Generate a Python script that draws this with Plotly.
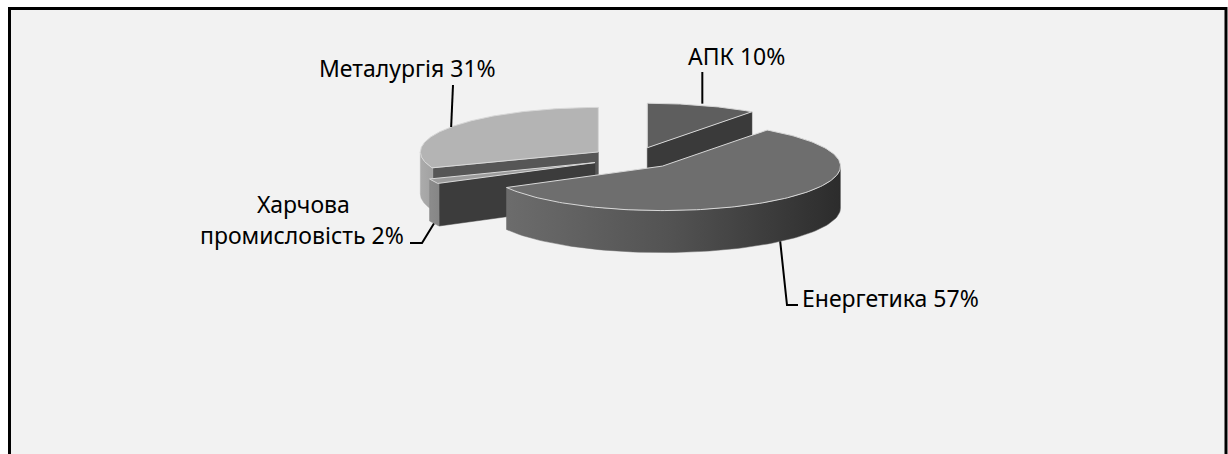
import numpy as np
import plotly.graph_objects as go

# Sector shares (%), in clockwise order starting from 12 o'clock
sectors = ["АПК", "Енергетика", "Харчова промисловість", "Металургія"]
shares = [10, 57, 2, 31]
labels = ["АПК 10%", "Енергетика 57%", "Харчова<br>промисловість 2%", "Металургія 31%"]

top_colors = ["#5e5e5e", "#6e6e6e", "#9c9c9c", "#b4b4b4"]
radial_colors = ["#3a3a3a", "#3a3a3a", "#3c3c3c", "#565656"]
side_scales = [
    [[0, "#4a4a4a"], [1, "#303030"]],
    [[0, "#6c6c6c"], [0.5, "#525252"], [1, "#2c2c2c"]],
    [[0, "#8c8c8c"], [1, "#868686"]],
    [[0, "#ababab"], [1, "#a2a2a2"]],
]

# 3D pie geometry (unit radius)
TILT = 0.25       # vertical squash of the disc
DEPTH = 0.236     # thickness of the disc
EXPLODE = 0.242   # radial offset of each slice

# Screen placement: pie centre in pixels and pixels per unit
W, H = 1228, 454
CX, CY, S = 634, 158, 178


def px(x, y):
    """Pixel position -> data coordinates."""
    return (x - CX) / S, (CY - y) / S


def rim(a_deg, ox, oy, drop=0.0):
    a = np.radians(a_deg)
    return ox + np.sin(a), oy + TILT * np.cos(a) - drop


fig = go.Figure()

total = sum(shares)
bounds = np.concatenate([[0], np.cumsum(shares) / total * 360])
slices = []
for i in range(len(shares)):
    a1, a2 = bounds[i], bounds[i + 1]
    mid = np.radians((a1 + a2) / 2)
    ox, oy = EXPLODE * np.sin(mid), EXPLODE * TILT * np.cos(mid)
    slices.append((i, a1, a2, ox, oy))

# back-to-front drawing order
order = [0, 3, 2, 1]


def poly(xs, ys, color, line_color=None, grad=None):
    kw = dict(x=list(xs) + [xs[0]], y=list(ys) + [ys[0]], mode="lines", fill="toself",
              hoverinfo="skip", showlegend=False)
    if line_color:
        kw["line"] = dict(color=line_color, width=1)
    else:
        kw["line"] = dict(color=color, width=0.5)
    if grad is not None:
        kw["fillgradient"] = dict(type="horizontal", colorscale=grad)
    else:
        kw["fillcolor"] = color
    fig.add_trace(go.Scatter(**kw))


for idx in order:
    i, a1, a2, ox, oy = slices[idx]
    # radial faces that face the viewer
    for a, visible in ((a1, 180 < a1 % 360 < 360), (a2, 0 < a2 % 360 < 180)):
        if visible:
            tx, ty = rim(a, ox, oy)
            bx, by = rim(a, ox, oy, DEPTH)
            poly([ox, tx, bx, ox], [oy, ty, by, oy - DEPTH], radial_colors[i])
    # outer curved side (front half only)
    lo, hi = max(a1, 90), min(a2, 270)
    if hi > lo:
        aa = np.linspace(lo, hi, 80)
        tx, ty = rim(aa, ox, oy)
        bx, by = rim(aa[::-1], ox, oy, DEPTH)
        poly(np.concatenate([tx, bx]), np.concatenate([ty, by]), side_scales[i][0][1],
             grad=side_scales[i])
    # top face
    aa = np.linspace(a1, a2, 160)
    tx, ty = rim(aa, ox, oy)
    poly(np.concatenate([[ox], tx]), np.concatenate([[oy], ty]), top_colors[i],
         line_color="#d8d8d8")

# Leader lines from each slice to its label, and the labels themselves
line_style = dict(color="black", width=2)
font = dict(family="Noto Sans, sans-serif", size=23, color="black")


def leader(points):
    xs, ys = zip(*points)
    fig.add_trace(go.Scatter(x=xs, y=ys, mode="lines", line=line_style,
                             hoverinfo="skip", showlegend=False))


def mid_anchor(idx, bottom):
    i, a1, a2, ox, oy = slices[idx]
    return rim((a1 + a2) / 2, ox, oy, DEPTH if bottom else 0.0)


# АПК
ax, ay = mid_anchor(0, False)
leader([(ax, ay + 0.01), (ax, px(0, 72)[1])])
fig.add_annotation(x=px(736, 0)[0], y=px(0, 56)[1], text=labels[0], showarrow=False, font=font)
# Металургія
ax, ay = mid_anchor(3, False)
leader([(ax, ay), (px(453, 0)[0], px(0, 85)[1])])
fig.add_annotation(x=px(407, 0)[0], y=px(0, 68)[1], text=labels[3], showarrow=False, font=font)
# Харчова промисловість
ax, ay = mid_anchor(2, True)
leader([(ax, ay), (px(422, 0)[0], px(0, 243)[1]), (px(410, 0)[0], px(0, 243)[1])])
fig.add_annotation(x=px(303, 0)[0], y=px(0, 204)[1], text="Харчова", showarrow=False, font=font)
fig.add_annotation(x=px(406, 0)[0], y=px(0, 235)[1], text="промисловість 2%", showarrow=False,
                   font=font, xanchor="right")
# Енергетика
ax, ay = mid_anchor(1, True)
leader([(ax, ay), (px(787, 0)[0], px(0, 305)[1]), (px(798, 0)[0], px(0, 305)[1])])
fig.add_annotation(x=px(800, 0)[0], y=px(0, 298)[1], text=labels[1], showarrow=False,
                   font=font, xanchor="left")

x0, _ = px(0, 0)
x1, _ = px(W, 0)
_, y1 = px(0, 0)
_, y0 = px(0, H)

fig.update_layout(
    width=W, height=H,
    margin=dict(l=0, r=0, t=0, b=0),
    paper_bgcolor="white",
    plot_bgcolor="rgba(0,0,0,0)",
    xaxis=dict(range=[x0, x1], visible=False, fixedrange=True),
    yaxis=dict(range=[y0, y1], visible=False, fixedrange=True),
    shapes=[dict(type="rect", xref="paper", yref="paper",
                 x0=9.5 / W, x1=1226 / W, y0=-0.05, y1=1 - 8.5 / H,
                 line=dict(color="black", width=3), fillcolor="#f2f2f2", layer="below")],
)

fig.write_html("out.html")
